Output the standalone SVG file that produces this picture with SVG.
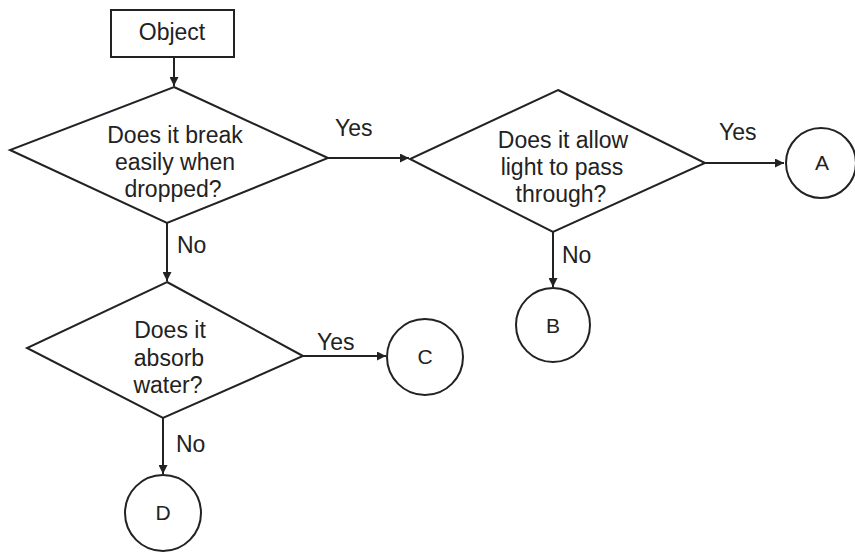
<svg xmlns="http://www.w3.org/2000/svg" width="855" height="552" viewBox="0 0 855 552">
<style>
.shape{fill:#fff;stroke:#222;stroke-width:2}
.edge{fill:none;stroke:#222;stroke-width:2}
text{font-family:"Liberation Sans",Arial,sans-serif;fill:#222;font-size:23px}
.c{text-anchor:middle}
.lt{font-size:21px}
</style>
<defs>
<marker id="ah" viewBox="0 0 10 10" refX="10" refY="5" markerWidth="10" markerHeight="9" markerUnits="userSpaceOnUse" orient="auto">
<path d="M0,0 L10,5 L0,10 z" fill="#222"/>
</marker>
</defs>
<rect width="855" height="552" fill="#fff"/>
<g id="connectors">
<line class="edge" x1="174" y1="57" x2="174" y2="86" marker-end="url(#ah)"/>
<line class="edge" x1="328" y1="158" x2="409" y2="158" marker-end="url(#ah)"/>
<line class="edge" x1="167" y1="223" x2="167" y2="281" marker-end="url(#ah)"/>
<line class="edge" x1="705" y1="163" x2="784" y2="163" marker-end="url(#ah)"/>
<line class="edge" x1="553" y1="232" x2="553" y2="287" marker-end="url(#ah)"/>
<line class="edge" x1="303" y1="356" x2="386" y2="356" marker-end="url(#ah)"/>
<line class="edge" x1="163" y1="418" x2="163" y2="474" marker-end="url(#ah)"/>
<text x="335" y="136">Yes</text>
<text x="177" y="253">No</text>
<text x="719" y="140">Yes</text>
<text x="562" y="263">No</text>
<text x="317" y="350">Yes</text>
<text x="176" y="452">No</text>
</g>
<g id="object">
<rect class="shape" x="111" y="10" width="123" height="47"/>
<text class="c" x="172" y="40">Object</text>
</g>
<g id="q1">
<polygon class="shape" points="174,87 328,158 167,223 10,150"/>
<text class="c" x="175" y="143">Does it break</text>
<text class="c" x="175" y="170">easily when</text>
<text class="c" x="173" y="197">dropped?</text>
</g>
<g id="q2">
<polygon class="shape" points="558,90 705,163 553,232 410,159"/>
<text class="c" x="563" y="148">Does it allow</text>
<text class="c" x="562" y="175">light to pass</text>
<text class="c" x="561" y="202">through?</text>
</g>
<g id="q3">
<polygon class="shape" points="167,282 303,356 163,418 27,348"/>
<text class="c" x="170" y="338">Does it</text>
<text class="c" x="169" y="366">absorb</text>
<text class="c" x="168" y="393">water?</text>
</g>
<g id="a">
<circle class="shape" cx="821" cy="163" r="35"/>
<text class="c lt" x="822" y="170">A</text>
</g>
<g id="b">
<circle class="shape" cx="553" cy="325" r="37"/>
<text class="c lt" x="553" y="333">B</text>
</g>
<g id="c">
<circle class="shape" cx="425" cy="357" r="38"/>
<text class="c lt" x="425" y="364">C</text>
</g>
<g id="d">
<circle class="shape" cx="163" cy="513" r="38"/>
<text class="c lt" x="163" y="520">D</text>
</g>
</svg>
